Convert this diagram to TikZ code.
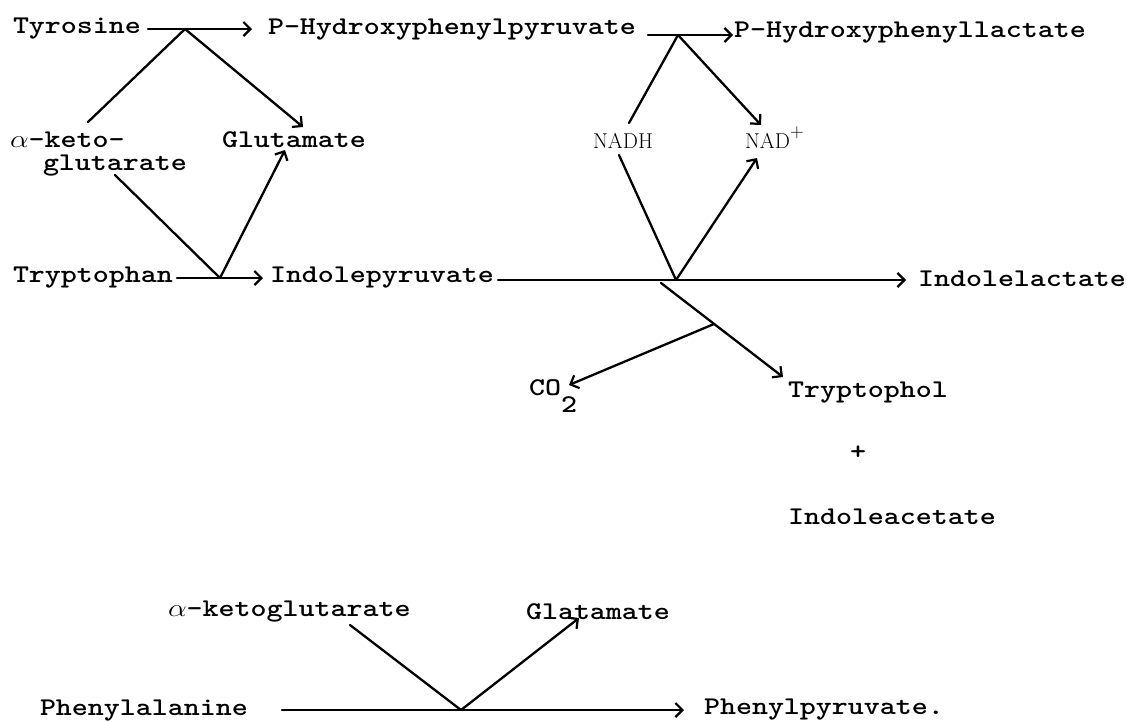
\documentclass[tikz,border=0pt]{standalone}
\usepackage{graphicx}
\usetikzlibrary{arrows.meta}
\newcommand\tw[1]{\scalebox{1.195}[1]{\ttfamily\bfseries\fontsize{25.5}{28}\selectfont #1}}
\newcommand\rmtxt[1]{{\fontsize{21.5}{24}\selectfont #1}}
\tikzset{
  tx/.style={anchor=base west, inner sep=0pt, outer sep=0pt},
  ln/.style={line width=2.3pt, line cap=round, line join=round},
  arr/.style={ln, -{Straight Barb[length=7pt,width=14pt,line width=2.2pt]}}
}
\begin{document}
\begin{tikzpicture}[x=1pt,y=-1pt]
\useasboundingbox (0,0) rectangle (1127,721);
% ---- text nodes ----
\node[tx] (tyr)  at (13,33)  {\tw{Tyrosine}};
\node[tx] (hpp)  at (268,34) {\tw{P-Hydroxyphenylpyruvate}};
\node[tx] (hpl)  at (734,37) {\tw{P-Hydroxyphenyllactate}};
\node[tx] (ak1)  at (10,147) {\tw{$\alpha$-keto-}};
\node[tx] (ak2)  at (43,170) {\tw{glutarate}};
\node[tx] (glu)  at (222,147) {\tw{Glutamate}};
\node[tx] (nadh) at (593,148) {\rmtxt{NADH}};
\node[tx] (nad)  at (745,148) {\rmtxt{NAD\raisebox{11pt}{\fontsize{19}{20}\selectfont +}}};
\node[tx] (trp)  at (13,282) {\tw{Tryptophan}};
\node[tx] (ipy)  at (270,282) {\tw{Indolepyruvate}};
\node[tx] (ila)  at (918,286) {\tw{Indolelactate}};
\node[tx] (co2)  at (529,395) {\tw{CO}\raisebox{-17pt}{\tw{2}}};
\node[tx] (tol)  at (788,397) {\tw{Tryptophol}};
\node (plus) at (858,453) {\tw{+}};
\node[tx] (iaa)  at (788,524) {\tw{Indoleacetate}};
\node[tx] (akg)  at (168,616) {\tw{$\alpha$-ketoglutarate}};
\node[tx] (gla)  at (526,619) {\tw{Glatamate}};
\node[tx] (phe)  at (40,715) {\tw{Phenylalanine}};
\node[tx] (ppy)  at (704,714) {\tw{Phenylpyruvate.}};
% ---- coordinates ----
\coordinate (a1s) at (148,29);  \coordinate (a1e) at (252,29);
\coordinate (j1) at (185,29);
\coordinate (ak1t) at (88,122);
\coordinate (glut) at (303,127);
\coordinate (ak2b) at (115,175);
\coordinate (j2) at (220,278);
\coordinate (glub) at (285,150);
\coordinate (a2s) at (177,278); \coordinate (a2e) at (263,278);
\coordinate (a3s) at (648,35);  \coordinate (a3e) at (733,35);
\coordinate (j3) at (678,35);
\coordinate (nadht) at (629,123);
\coordinate (nadt) at (761,125);
\coordinate (nadhb) at (619,155);
\coordinate (j4) at (676,280);
\coordinate (nadb) at (757,158);
\coordinate (a4s) at (498,280); \coordinate (a4e) at (906,280);
\coordinate (j5) at (661,283);
\coordinate (tolt) at (783,377);
\coordinate (br) at (714,324);
\coordinate (co2t) at (569,385);
\coordinate (a5s) at (282,710); \coordinate (a5e) at (684,710);
\coordinate (akgb) at (350,625);
\coordinate (j6) at (461,710);
\coordinate (glat) at (579,618);
% ---- connectors ----
\draw[arr] (a1s) -- (a1e);
\draw[ln] (ak1t) -- (j1);
\draw[arr] (j1) -- (glut);
\draw[ln] (ak2b) -- (j2);
\draw[arr] (j2) -- (glub);
\draw[arr] (a2s) -- (a2e);
\draw[arr] (a3s) -- (a3e);
\draw[ln] (nadht) -- (j3);
\draw[arr] (j3) -- (nadt);
\draw[ln] (nadhb) -- (j4);
\draw[arr] (j4) -- (nadb);
\draw[arr] (a4s) -- (a4e);
\draw[arr] (j5) -- (tolt);
\draw[arr] (br) -- (co2t);
\draw[arr] (a5s) -- (a5e);
\draw[ln] (akgb) -- (j6);
\draw[arr] (j6) -- (glat);
\end{tikzpicture}
\end{document}
